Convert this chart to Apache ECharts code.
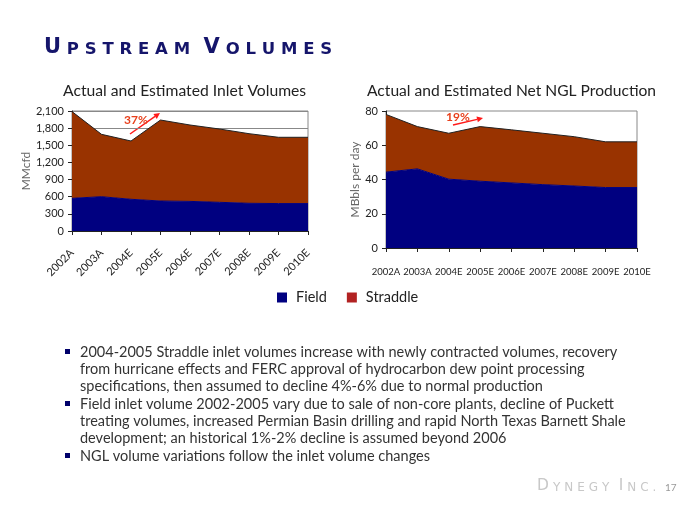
<!DOCTYPE html>
<html>
<head>
<meta charset="utf-8">
<script src="https://cdn.jsdelivr.net/npm/echarts@6/dist/echarts.min.js"></script>
<style>
html,body{margin:0;padding:0;background:#fff;}
#main{width:680px;height:510px;}
</style>
</head>
<body>
<div id="main"></div>
<script>
// ---- data ----
var years = ['2002A','2003A','2004E','2005E','2006E','2007E','2008E','2009E','2010E'];
var inletField    = [572, 600, 555, 525, 518, 502, 485, 480, 480];
var inletStraddle = [1518, 1092, 1020, 1417, 1337, 1283, 1218, 1160, 1160];
var nglField    = [44.3, 46.2, 40.2, 39.0, 38.0, 37.0, 36.2, 35.3, 35.3];
var nglStraddle = [33.7, 24.7, 26.8, 31.9, 31.0, 30.0, 28.8, 26.7, 26.7];
var inletTicks = {min: 0, max: 2100, interval: 300};
var nglTicks = {min: 0, max: 80, interval: 20};
var bullets = [
  ['2004-2005 Straddle inlet volumes increase with newly contracted volumes, recovery',
   'from hurricane effects and FERC approval of hydrocarbon dew point processing',
   'specifications, then assumed to decline 4%-6% due to normal production'],
  ['Field inlet volume 2002-2005 vary due to sale of non-core plants, decline of Puckett',
   'treating volumes, increased Permian Basin drilling and rapid North Texas Barnett Shale',
   'development; an historical 1%-2% decline is assumed beyond 2006'],
  ['NGL volume variations follow the inlet volume changes']
];
var pageTitle = 'Upstream Volumes';
var footer = 'Dynegy Inc.';

var FONT = 'Lato, "Open Sans", sans-serif';
var NAVY = '#000080', BROWN = '#993300', LEG_RED = '#B22222';

// small-caps rich string builder (each letter its own token for letter spacing)
function smallCaps(str) {
  var out = '';
  for (var i = 0; i < str.length; i++) {
    var c = str[i];
    if (c === ' ') out += '{s| }';
    else if (c === '.') out += '{b|.}';
    else if (c !== c.toLowerCase()) out += '{a|' + c + '}';
    else out += '{b|' + c.toUpperCase() + '}';
  }
  return out;
}

var chart = echarts.init(document.getElementById('main'), null, {renderer: 'canvas'});

var graphics = [];
var lineY = 352, lineH = 17.2;
bullets.forEach(function (b) {
  b.forEach(function (line, li) {
    if (li === 0) {
      graphics.push({type: 'rect', shape: {x: 65, y: lineY - 3, width: 5, height: 5}, style: {fill: '#00006A'}});
    }
    graphics.push({type: 'text', x: 80, y: lineY, style: {text: line, font: '14.5px ' + FONT, fill: '#333', textVerticalAlign: 'middle'}});
    lineY += lineH;
  });
  lineY += 0.4;
});
function arrow(x1, y1, x2, y2) {
  var ang = Math.atan2(y2 - y1, x2 - x1), L = 6, W = 3;
  var bx = x2 - L * Math.cos(ang), by = y2 - L * Math.sin(ang);
  var px = -Math.sin(ang) * W, py = Math.cos(ang) * W;
  graphics.push({type: 'line', shape: {x1: x1, y1: y1, x2: bx, y2: by}, style: {stroke: '#FF1A1A', lineWidth: 1.5}});
  graphics.push({type: 'polygon', shape: {points: [[x2, y2], [bx + px, by + py], [bx - px, by - py]]}, style: {fill: '#FF1A1A'}});
}
arrow(130, 134, 160, 113);
arrow(453, 125, 483, 118);
graphics.push({type: 'text', x: 136, y: 120, style: {text: '37%', font: 'bold 12px ' + FONT, fill: '#E8401C', textAlign: 'center', textVerticalAlign: 'middle'}});
graphics.push({type: 'text', x: 458, y: 117, style: {text: '19%', font: 'bold 12px ' + FONT, fill: '#E8401C', textAlign: 'center', textVerticalAlign: 'middle'}});

var axisLabelStyle = {color: '#222', fontFamily: FONT, fontSize: 11};
var TF = '"DejaVu Sans", sans-serif';

chart.setOption({
  animation: false,
  title: [
    {text: smallCaps(pageTitle), left: 44, top: 37, padding: 0,
     textStyle: {rich: {
       a: {fontFamily: TF, fontWeight: 'bold', fontSize: 21, color: '#15156B', padding: [0, 5.8, 0, 0], verticalAlign: 'bottom'},
       b: {fontFamily: TF, fontWeight: 'bold', fontSize: 16.5, color: '#15156B', padding: [0, 5.8, 0, 0], verticalAlign: 'bottom'},
       s: {fontFamily: TF, fontWeight: 'bold', fontSize: 16.5, padding: [0, 2, 0, 0]}
     }}},
    {text: 'Actual and Estimated Inlet Volumes', left: 63, top: 83, padding: 0,
     textStyle: {fontFamily: FONT, fontWeight: 'normal', fontSize: 15.7, color: '#222'}},
    {text: 'Actual and Estimated Net NGL Production', left: 367, top: 83, padding: 0,
     textStyle: {fontFamily: FONT, fontWeight: 'normal', fontSize: 15.6, color: '#222'}},
    {text: smallCaps(footer), left: 537, top: 478, padding: 0,
     textStyle: {rich: {
       a: {fontFamily: TF, fontWeight: 'normal', fontSize: 15.5, color: '#C8C8C8', padding: [0, 4, 0, 0], verticalAlign: 'bottom'},
       b: {fontFamily: TF, fontWeight: 'normal', fontSize: 12, color: '#C8C8C8', padding: [0, 4, 0, 0], verticalAlign: 'bottom'},
       s: {fontFamily: TF, fontSize: 12, padding: [0, 1, 0, 0]}
     }}},
    {text: '17', left: 665, top: 483, padding: 0, textStyle: {fontFamily: FONT, fontWeight: 'normal', fontSize: 10, color: '#999'}}
  ],
  legend: {
    left: 277, top: 290, padding: 0, itemWidth: 10, itemHeight: 10, itemGap: 20, icon: 'rect',
    textStyle: {fontFamily: FONT, fontSize: 14.5, color: '#222', padding: [0, 0, 0, 4]},
    data: [{name: 'Field', itemStyle: {color: NAVY, borderWidth: 0}},
           {name: 'Straddle', itemStyle: {color: LEG_RED, borderWidth: 0}}]
  },
  grid: [
    {left: 72, right: 372, top: 111, bottom: 279, show: true, borderColor: '#888', borderWidth: 1},
    {left: 386, right: 43, top: 111, bottom: 262, show: true, borderColor: '#888', borderWidth: 1}
  ],
  xAxis: [
    {type: 'category', gridIndex: 0, data: years, boundaryGap: false,
     axisLine: {lineStyle: {color: '#222'}}, axisTick: {show: true, length: 4, interval: 0, lineStyle: {color: '#222'}},
     axisLabel: Object.assign({rotate: 45, interval: 0, margin: 20}, axisLabelStyle)},
    {type: 'category', gridIndex: 1, data: years, boundaryGap: false,
     axisLine: {lineStyle: {color: '#222'}}, axisTick: {show: true, length: 4, interval: 0, lineStyle: {color: '#222'}},
     axisLabel: Object.assign({interval: 0, margin: 19}, axisLabelStyle, {fontSize: 9.5})}
  ],
  yAxis: [
    {type: 'value', gridIndex: 0, min: inletTicks.min, max: inletTicks.max, interval: inletTicks.interval,
     name: 'MMcfd', nameLocation: 'middle', nameGap: 37, nameRotate: 90,
     nameTextStyle: {fontFamily: FONT, fontSize: 12, color: '#666'},
     axisLine: {show: true, lineStyle: {color: '#222'}}, axisTick: {show: true, length: 4, lineStyle: {color: '#222'}},
     splitLine: {show: true, lineStyle: {color: '#888'}},
     axisLabel: Object.assign({margin: 8, formatter: function (v) { return v.toLocaleString('en-US'); }}, axisLabelStyle)},
    {type: 'value', gridIndex: 1, min: nglTicks.min, max: nglTicks.max, interval: nglTicks.interval,
     name: 'MBbls per day', nameLocation: 'middle', nameGap: 22, nameRotate: 90,
     nameTextStyle: {fontFamily: FONT, fontSize: 12, color: '#666'},
     axisLine: {show: true, lineStyle: {color: '#222'}}, axisTick: {show: true, length: 4, lineStyle: {color: '#222'}},
     splitLine: {show: false},
     axisLabel: Object.assign({margin: 8}, axisLabelStyle)}
  ],
  series: [
    {name: 'Field', type: 'line', xAxisIndex: 0, yAxisIndex: 0, stack: 'inlet', data: inletField,
     symbol: 'none', lineStyle: {color: NAVY, width: 1}, itemStyle: {color: NAVY}, areaStyle: {color: NAVY, opacity: 1}},
    {name: 'Straddle', type: 'line', xAxisIndex: 0, yAxisIndex: 0, stack: 'inlet', data: inletStraddle,
     symbol: 'none', lineStyle: {color: '#222', width: 1}, itemStyle: {color: BROWN}, areaStyle: {color: BROWN, opacity: 1}},
    {name: 'Field', type: 'line', xAxisIndex: 1, yAxisIndex: 1, stack: 'ngl', data: nglField,
     symbol: 'none', lineStyle: {color: NAVY, width: 1}, itemStyle: {color: NAVY}, areaStyle: {color: NAVY, opacity: 1}},
    {name: 'Straddle', type: 'line', xAxisIndex: 1, yAxisIndex: 1, stack: 'ngl', data: nglStraddle,
     symbol: 'none', lineStyle: {color: '#222', width: 1}, itemStyle: {color: BROWN}, areaStyle: {color: BROWN, opacity: 1}}
  ],
  graphic: graphics
});
</script>
</body>
</html>
